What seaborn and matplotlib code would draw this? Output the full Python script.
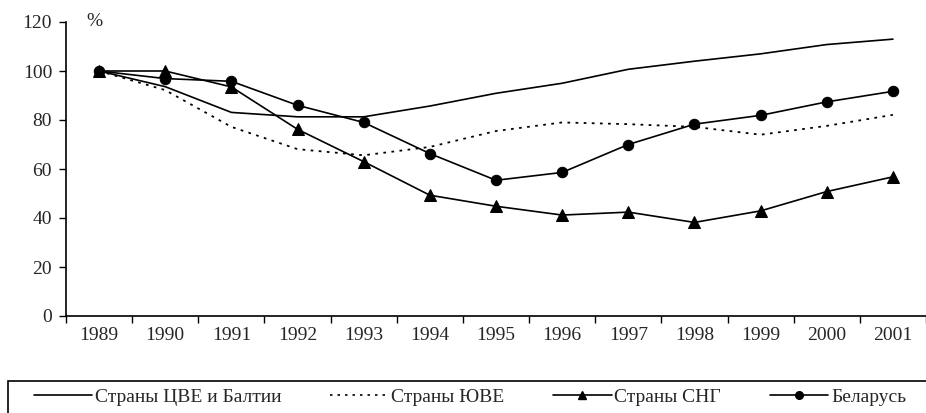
import pandas as pd
import matplotlib.pyplot as plt
import matplotlib.patches as mpatches
from matplotlib.lines import Line2D
import seaborn as sns

years = ['1989', '1990', '1991', '1992', '1993', '1994', '1995',
         '1996', '1997', '1998', '1999', '2000', '2001']
cee_baltics = [100, 93.6, 83.1, 81.3, 81.3, 85.7, 90.9, 95.0, 100.7, 104.0, 107.0, 110.8, 113.0]
see = [100, 92.2, 77.2, 68.1, 65.6, 69.0, 75.5, 79.0, 78.3, 77.2, 74.0, 77.6, 82.1]
cis = [100, 100, 93.5, 76.2, 63.0, 49.3, 44.8, 41.2, 42.4, 38.2, 42.9, 50.8, 56.8]
belarus = [100, 96.9, 95.8, 86.0, 79.0, 66.3, 55.4, 58.6, 70.0, 78.3, 81.9, 87.4, 91.7]

labels = ['Страны ЦВЕ и Балтии', 'Страны ЮВЕ', 'Страны СНГ', 'Беларусь']

sns.set_theme(style='ticks')
plt.rcParams['font.family'] = ['Liberation Serif', 'DejaVu Serif']
fs = 14

df = pd.DataFrame({'x': range(len(years)), 'cee': cee_baltics, 'see': see,
                   'cis': cis, 'by': belarus})

fig = plt.figure(figsize=(9.26, 4.13), dpi=100)
ax = fig.add_axes([66 / 926, 1 - 316 / 413, 860 / 926, 294 / 413])

# --- series ---
sns.lineplot(ax=ax, data=df, x='x', y='cee', color='black', lw=1.2)
sns.lineplot(ax=ax, data=df, x='x', y='see', color='black', lw=1.3, linestyle=(0, (1.5, 3)))
sns.lineplot(ax=ax, data=df, x='x', y='cis', color='black', lw=1.2, marker='^', markersize=8,
             markeredgecolor='black', markerfacecolor='black')
sns.lineplot(ax=ax, data=df, x='x', y='by', color='black', lw=1.2, marker='o', markersize=7.5,
             markeredgecolor='black', markerfacecolor='black')

# --- axes ---
ax.set_xlim(-0.5, len(years) - 0.5)
ax.set_ylim(0, 120)
ax.set_yticks(range(0, 121, 20))
ax.set_xticks([i - 0.5 for i in range(len(years) + 1)])
ax.set_xticklabels([])
ax.set_xticks(range(len(years)), minor=True)
ax.set_xticklabels(years, minor=True)
ax.tick_params(axis='x', which='major', direction='out', length=5, width=1, color='black')
ax.tick_params(axis='x', which='minor', length=0, pad=8, labelsize=fs)
ax.tick_params(axis='y', direction='out', length=5, width=1, color='black', pad=5, labelsize=fs)
ax.set_xlabel('')
ax.set_ylabel('')
for side in ['top', 'right']:
    ax.spines[side].set_visible(False)
for side in ['left', 'bottom']:
    ax.spines[side].set_color('black')
    ax.spines[side].set_linewidth(1.2)
ax.grid(False)
ax.text(0.033, 1.0, '%', transform=ax.transAxes, ha='center', va='center', fontsize=fs)

# --- legend ---
handles = [
    Line2D([], [], color='black', lw=1.2),
    Line2D([], [], color='black', lw=1.2, linestyle=(0, (1.5, 3))),
    Line2D([], [], color='black', lw=1.2, marker='^', markersize=6),
    Line2D([], [], color='black', lw=1.2, marker='o', markersize=5.5),
]
fig.legend(handles, labels, loc='center left', bbox_to_anchor=(24 / 926, 1 - 397 / 413),
           ncol=4, frameon=False, handlelength=3.0, handletextpad=0.15,
           columnspacing=2.5, fontsize=fs, borderpad=0)
fig.patches.append(mpatches.Rectangle((8 / 926, -0.1), 1.0, 0.1 + (413 - 381) / 413,
                                      transform=fig.transFigure, fill=False,
                                      edgecolor='black', lw=1.2))

plt.savefig('out.png', dpi=100)
